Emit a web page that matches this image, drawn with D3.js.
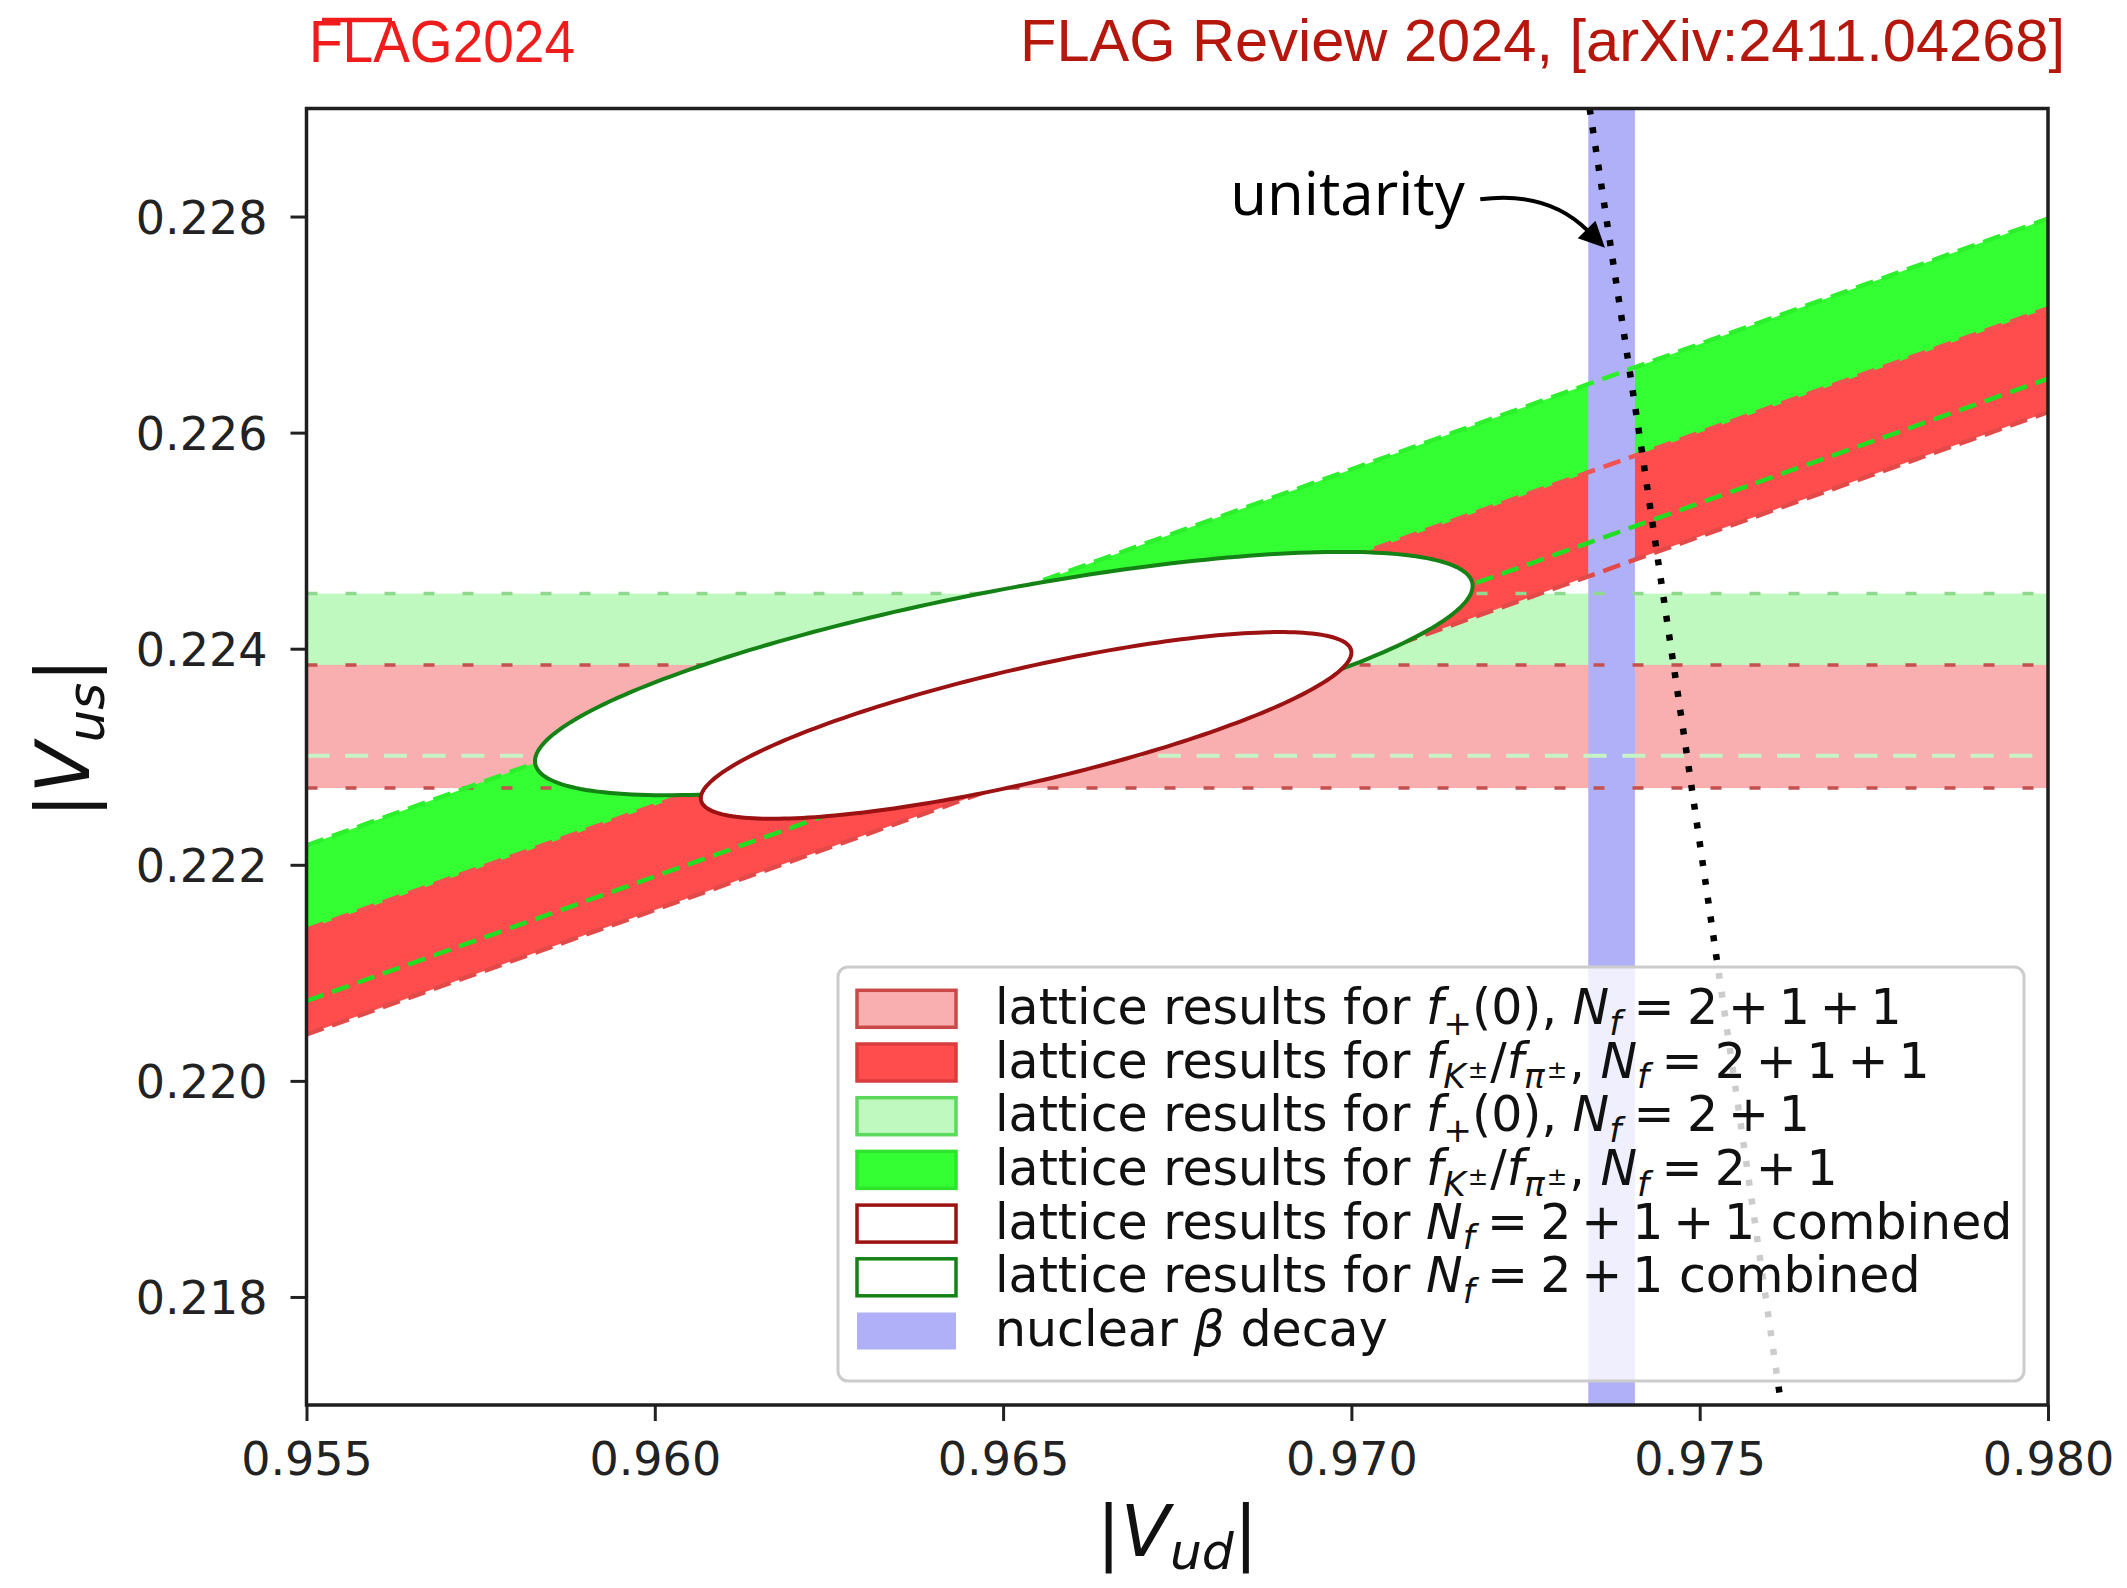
<!DOCTYPE html>
<html><head><meta charset="utf-8">
<script src="https://cdn.jsdelivr.net/npm/d3@7"></script>
<style>body{margin:0;background:#fff} svg{display:block} text{white-space:pre}</style>
</head><body>
<svg id="chart" width="2127" height="1588"></svg>
<script>
// ---------------- data ----------------
const xDomain = [0.955, 0.980];
const yDomain = [0.217, 0.229];
const xTicks = [0.955, 0.960, 0.965, 0.970, 0.975, 0.980];
const yTicks = [0.218, 0.220, 0.222, 0.224, 0.226, 0.228];

// horizontal bands from f+(0): [low, high] in |Vus|
const fplus211 = [0.22271, 0.22385];
const fplus21  = [0.22301, 0.22451];

// slanted bands from fK/fpi: |Vus| edges at the two |Vud| ends
const bandVud   = [0.955, 0.980];
const fk211Low  = [0.22043, 0.22619];
const fk211High = [0.22140, 0.22715];
const fk21Low   = [0.22074, 0.22650];
const fk21High  = [0.22218, 0.22798];

// nuclear beta decay |Vud| band
const betaVud = [0.97340, 0.97407];

// unitarity curve points
const unitarityVus = [0.229, 0.226, 0.223, 0.220, 0.217];
const unitarityVud = [0.97342, 0.97413, 0.97482, 0.97550, 0.97617];

// combined ellipses: index 0 = Nf=2+1+1, index 1 = Nf=2+1
const ellCenterVud = [0.96533, 0.96501];
const ellCenterVus = [0.22329, 0.22377];
const ellSigmaVud  = [0.00467, 0.00673];
const ellSigmaVus  = [0.000864, 0.001126];
const ellCorr      = [0.78, 0.72];

// annotation (data coordinates)
const annotText  = 'unitarity';
const annotPos   = [0.96826, 0.22801];
const arrowStart = [0.97185, 0.22816];
const arrowTip   = [0.97364, 0.22771];

const EQ = '\u2005=\u2005', PL = '\u2009+\u2009';
const legendLabels = [
  [['lattice results for '],['f',{i:1}],['+',{s:.7,d:.22}],['(0), '],['N',{i:1}],['f',{i:1,s:.7,d:.22}],[EQ],['2'],[PL],['1'],[PL],['1']],
  [['lattice results for '],['f',{i:1}],['K',{i:1,s:.7,d:.22}],['±',{s:.5,d:0.0,g:2}],['/',{g:2}],['f',{i:1}],['π',{i:1,s:.7,d:.22}],['±',{s:.5,d:0.0,g:2}],[', ',{g:2}],['N',{i:1}],['f',{i:1,s:.7,d:.22}],[EQ],['2'],[PL],['1'],[PL],['1']],
  [['lattice results for '],['f',{i:1}],['+',{s:.7,d:.22}],['(0), '],['N',{i:1}],['f',{i:1,s:.7,d:.22}],[EQ],['2'],[PL],['1']],
  [['lattice results for '],['f',{i:1}],['K',{i:1,s:.7,d:.22}],['±',{s:.5,d:0.0,g:2}],['/',{g:2}],['f',{i:1}],['π',{i:1,s:.7,d:.22}],['±',{s:.5,d:0.0,g:2}],[', ',{g:2}],['N',{i:1}],['f',{i:1,s:.7,d:.22}],[EQ],['2'],[PL],['1']],
  [['lattice results for '],['N',{i:1}],['f',{i:1,s:.7,d:.22}],[EQ],['2'],[PL],['1'],[PL],['1'],[' combined']],
  [['lattice results for '],['N',{i:1}],['f',{i:1,s:.7,d:.22}],[EQ],['2'],[PL],['1'],[' combined']],
  [['nuclear '],['β',{i:1}],[' decay']]
];
const titleLeft = 'FLAG2024';
const titleRight = 'FLAG Review 2024, [arXiv:2411.04268]';

// ---------------- styles ----------------
const C = {
  lightRed:'#f9afaf', red:'#ff4d4d', lightGreen:'#bff9bf', green:'#33ff33', blue:'#b0b0f8',
  ellRed:'#9c1212', ellGreen:'#148214'
};
const legendStyles = [
  {fill:C.lightRed, stroke:'#c94848'},
  {fill:C.red, stroke:'#d83c3c'},
  {fill:C.lightGreen, stroke:'#5cd85c'},
  {fill:C.green, stroke:'#2ee42e'},
  {fill:'#ffffff', stroke:C.ellRed},
  {fill:'#ffffff', stroke:C.ellGreen},
  {fill:C.blue, stroke:'none'}
];

const FONT = "'DejaVu Sans', sans-serif";
const svg = d3.select('#chart');
const L = 306.5, R = 2048, T = 108.5, B = 1405;
const x = d3.scaleLinear().domain(xDomain).range([L, R]);
const y = d3.scaleLinear().domain(yDomain).range([B, T]);

svg.append('defs').append('clipPath').attr('id','clip')
  .append('rect').attr('x',L).attr('y',T).attr('width',R-L).attr('height',B-T);
const plot = svg.append('g').attr('clip-path','url(#clip)');

function hband(v, color){
  plot.append('rect').attr('x', x(xDomain[0])).attr('width', x(xDomain[1]) - x(xDomain[0]))
    .attr('y', y(v[1])).attr('height', y(v[0]) - y(v[1])).attr('fill', color);
}
hband(fplus21, C.lightGreen);
hband(fplus211, C.lightRed);

const area = d3.area().x(d => x(d.v)).y0(d => y(d.lo)).y1(d => y(d.hi));
function sband(lo, hi, color){
  const pts = bandVud.map((v,i) => ({v, lo: lo[i], hi: hi[i]}));
  plot.append('path').attr('d', area(pts)).attr('fill', color);
}
sband(fk21Low, fk21High, C.green);
sband(fk211Low, fk211High, C.red);

// beta decay band
plot.append('rect').attr('x', x(betaVud[0])).attr('width', x(betaVud[1]) - x(betaVud[0]))
  .attr('y', T).attr('height', B - T).attr('fill', C.blue);

// dashed edges
const line = d3.line().x(d => x(d[0])).y(d => y(d[1]));
function hedge(v, color, dash, w){
  plot.append('path').attr('d', line([[xDomain[0], v],[xDomain[1], v]]))
    .attr('stroke', color).attr('stroke-width', w).attr('stroke-dasharray', dash).attr('fill','none');
}
hedge(fplus21[1], '#8fd98f', '11 28', 3.5);
hedge(fplus21[0], '#c6f4c6', '23 15.7', 4);
hedge(fplus211[1], '#c45050', '11 28', 3.5);
hedge(fplus211[0], '#c45050', '11 28', 3.5);
function sedge(vals, color){
  plot.append('path').attr('d', line(bandVud.map((v,i) => [v, vals[i]])))
    .attr('stroke', color).attr('stroke-width', 4.5).attr('stroke-dasharray', '18 9').attr('fill','none');
}
sedge(fk21High, '#2cf02c');
sedge(fk211High, '#f25252');
sedge(fk211Low, '#e24a4a');
sedge(fk21Low, '#22dd22');

// ellipses
function ellipse(k, color){
  const rho = ellCorr[k], q = Math.sqrt(1 - rho*rho);
  const pts = d3.range(0, 361, 1.5).map(a => {
    const t = a * Math.PI / 180;
    return [ellCenterVud[k] + ellSigmaVud[k]*Math.cos(t),
            ellCenterVus[k] + ellSigmaVus[k]*(rho*Math.cos(t) + q*Math.sin(t))];
  });
  plot.append('path').attr('d', d3.line().x(d=>x(d[0])).y(d=>y(d[1])).curve(d3.curveLinearClosed)(pts))
    .attr('fill','#fff').attr('stroke', color).attr('stroke-width', 4);
}
ellipse(1, C.ellGreen);
ellipse(0, C.ellRed);

// unitarity dotted line
plot.append('path').attr('d', line(unitarityVud.map((v,i)=>[v, unitarityVus[i]])))
  .attr('stroke','#000').attr('stroke-width',6.5).attr('stroke-dasharray','6 13').attr('fill','none');

// annotation
svg.append('text').attr('x', x(annotPos[0])).attr('y', y(annotPos[1]))
  .attr('font-family', "'Open Sans', sans-serif").attr('font-size', 60).attr('fill','#000').text(annotText);
{
  const p0 = [x(arrowStart[0]), y(arrowStart[1])], p2 = [x(arrowTip[0]), y(arrowTip[1])];
  const dx = p2[0]-p0[0], dy = p2[1]-p0[1], rad = 0.22;
  const c = [(p0[0]+p2[0])/2 + rad*dy, (p0[1]+p2[1])/2 - rad*dx];
  let ux = p2[0]-c[0], uy = p2[1]-c[1]; const n = Math.hypot(ux,uy); ux/=n; uy/=n;
  const hl = 26, hw = 12.5;
  const base = [p2[0]-ux*hl, p2[1]-uy*hl];
  const c2 = [c[0] - ux*hl*0.3, c[1] - uy*hl*0.3];
  svg.append('path').attr('d', `M${p0[0]},${p0[1]} Q${c2[0]},${c2[1]} ${base[0]+ux*2},${base[1]+uy*2}`)
    .attr('stroke','#000').attr('stroke-width',4).attr('fill','none');
  svg.append('path').attr('d', `M${p2[0]},${p2[1]} L${base[0]-uy*hw},${base[1]+ux*hw} L${base[0]+uy*hw},${base[1]-ux*hw} Z`)
    .attr('fill','#000');
}

// axes
const xAxis = svg.append('g').attr('transform', `translate(0,${B})`)
  .call(d3.axisBottom(x).tickValues(xTicks).tickFormat(d3.format('.3f')).tickSize(16).tickPadding(21));
const yAxis = svg.append('g').attr('transform', `translate(${L},0)`)
  .call(d3.axisLeft(y).tickValues(yTicks).tickFormat(d3.format('.3f')).tickSize(16).tickPadding(23));
[xAxis, yAxis].forEach(g => {
  g.select('.domain').remove();
  g.selectAll('.tick line').attr('stroke','#222').attr('stroke-width',3);
  g.selectAll('.tick text').attr('font-family', FONT).attr('font-size', 46).attr('fill','#222');
});
yAxis.selectAll('.tick text').attr('dy','0.36em');
svg.append('rect').attr('x',L).attr('y',T).attr('width',R-L).attr('height',B-T)
  .attr('fill','none').attr('stroke','#1e1e1e').attr('stroke-width',3.5);

// rich text helper
function rich(sel, segs, size){
  let cur = 0;
  segs.forEach(([txt, o={}]) => {
    const shift = (o.d||0)*size;
    const t = sel.append('tspan').text(txt).attr('font-size', (o.s||1)*size).attr('dy', shift - cur);
    if (o.g) t.attr('dx', o.g);
    if (o.i) t.attr('font-style','italic');
    cur = shift;
  });
}
const xl = svg.append('text').attr('x', (L+R)/2).attr('y', 1556).attr('text-anchor','middle')
  .attr('font-family', FONT).attr('fill','#111');
rich(xl, [['|'],['V',{i:1}],['ud',{i:1,s:.7,d:.18}],['|']], 72);
const yl = svg.append('text').attr('transform','translate(89,738) rotate(-90)').attr('text-anchor','middle')
  .attr('font-family', FONT).attr('fill','#111');
rich(yl, [['|'],['V',{i:1}],['us',{i:1,s:.7,d:.2}],['|']], 74);

// legend
const lg = svg.append('g');
lg.append('rect').attr('x',838).attr('y',967).attr('width',1186).attr('height',414).attr('rx',10)
  .attr('fill','#fff').attr('fill-opacity',0.8).attr('stroke','#cccccc').attr('stroke-width',3);
legendLabels.forEach((segs, i) => {
  const cy = 1008.8 + i*53.7;
  const st = legendStyles[i];
  lg.append('rect').attr('x', 857).attr('y', cy-18.5).attr('width', 99).attr('height', 37)
    .attr('fill', st.fill).attr('stroke', st.stroke).attr('stroke-width', st.stroke==='none'?0:3.5);
  const t = lg.append('text').attr('x', 995).attr('y', cy + 15).attr('font-family', FONT).attr('fill','#111');
  rich(t, segs, 49);
});

// titles
svg.append('text').attr('x', 309).attr('y', 62).attr('font-family', "'Liberation Sans', Arial, sans-serif")
  .attr('font-size', 60).attr('fill', '#f01c1c').attr('textLength', 266).attr('lengthAdjust','spacingAndGlyphs').text(titleLeft);
svg.append('line').attr('x1', 322).attr('x2', 392).attr('y1', 20).attr('y2', 20)
  .attr('stroke','#f01c1c').attr('stroke-width',4.5);
svg.append('text').attr('x', 1020).attr('y', 61).attr('font-family', "'Liberation Sans', Arial, sans-serif")
  .attr('font-size', 59).attr('fill', '#b5170d').attr('textLength', 1045).attr('lengthAdjust','spacingAndGlyphs').text(titleRight);
</script>
</body></html>
